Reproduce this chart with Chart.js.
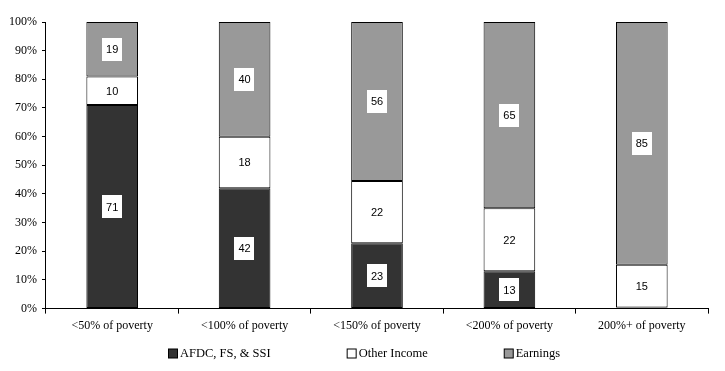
<!DOCTYPE html>
<html>
<head>
<meta charset="utf-8">
<script src="https://cdn.jsdelivr.net/npm/chart.js@4"></script>
<style>
  html, body { margin: 0; padding: 0; background: #fff; }
  #wrap { width: 725px; height: 371px; }
</style>
</head>
<body>
<div id="wrap"><canvas id="graph01" width="725" height="371"></canvas></div>
<script>
const categorias = ['<50% of poverty', '<100% of poverty', '<150% of poverty', '<200% of poverty', '200%+ of poverty']
const afdc = [71, 42, 23, 13, 0.4]
const outros = [10, 18, 22, 22, 15]
const ganhos = [19, 40, 56, 65, 85]
const yTicks = [0, 10, 20, 30, 40, 50, 60, 70, 80, 90, 100]

// normalizar para 100% (barras empilhadas)
const totais = categorias.map((c, i) => afdc[i] + outros[i] + ganhos[i])
const pct = arr => arr.map((v, i) => v / totais[i] * 100)

const serif = "'Liberation Serif', 'Times New Roman', serif"

const rotulos = {
  id: 'rotulos',
  afterDatasetsDraw(chart) {
    const ctx = chart.ctx
    ctx.save()
    ctx.font = "11px 'Liberation Sans', Arial, sans-serif"
    ctx.textAlign = 'center'
    ctx.textBaseline = 'middle'
    chart.data.datasets.forEach((ds, d) => {
      chart.getDatasetMeta(d).data.forEach((bar, i) => {
        const v = ds.raw[i]
        if (v < 5) return
        const txt = String(v)
        const w = ctx.measureText(txt).width + 8
        const h = 23
        const yc = (bar.y + bar.base) / 2
        ctx.fillStyle = '#fff'
        ctx.fillRect(Math.round(bar.x - w / 2), Math.round(yc - h / 2), Math.round(w), h)
        ctx.fillStyle = '#000'
        ctx.fillText(txt, bar.x, yc + 1)
      })
    })
    ctx.restore()
  }
}

// legenda desenhada a mao (itens bem espacados)
const legenda = {
  id: 'legenda',
  afterDraw(chart) {
    const ctx = chart.ctx
    const gap = 76, box = 9
    ctx.save()
    ctx.font = '12.5px ' + serif
    ctx.textBaseline = 'middle'
    const itens = chart.data.datasets.map(ds => ({ txt: ds.label, cor: ds.backgroundColor, w: box + 3 + ctx.measureText(ds.label).width }))
    const total = itens.reduce((s, it) => s + it.w, 0) + gap * (itens.length - 1)
    let x = Math.round(chart.width / 2 - total / 2) + 2
    const y = 353
    itens.forEach(it => {
      ctx.fillStyle = it.cor
      ctx.fillRect(x + 0.5, y - box / 2 + 0.5, box, box)
      ctx.strokeStyle = '#000'
      ctx.lineWidth = 1
      ctx.strokeRect(x + 0.5, y - box / 2 + 0.5, box, box)
      ctx.fillStyle = '#000'
      ctx.fillText(it.txt, x + box + 3, y + 1)
      x += it.w + gap
    })
    ctx.restore()
  }
}

const comum = { borderColor: '#000', borderWidth: 1, categoryPercentage: 1, barPercentage: 0.39, borderSkipped: false }

new Chart(document.getElementById('graph01'), {
  type: 'bar',
  data: {
    labels: categorias,
    datasets: [
      { label: 'AFDC, FS, & SSI', data: pct(afdc), raw: afdc, backgroundColor: '#333333', ...comum },
      { label: 'Other Income', data: pct(outros), raw: outros, backgroundColor: '#ffffff', ...comum },
      { label: 'Earnings', data: pct(ganhos), raw: ganhos, backgroundColor: '#999999', ...comum }
    ]
  },
  options: {
    responsive: false,
    animation: false,
    layout: { padding: { top: 22, right: 17, left: 4, bottom: 33 } },
    plugins: {
      legend: { display: false },
      tooltip: { enabled: false }
    },
    scales: {
      x: {
        stacked: true,
        grid: { drawOnChartArea: false, color: '#000', tickLength: 5, offset: true },
        border: { color: '#000' },
        ticks: { color: '#000', font: { family: serif, size: 12 }, padding: 5, maxRotation: 0 }
      },
      y: {
        stacked: true,
        min: 0,
        max: 100,
        afterBuildTicks: axis => { axis.ticks = yTicks.map(v => ({ value: v })) },
        grid: { drawOnChartArea: false, color: '#000', tickLength: 4 },
        border: { color: '#000' },
        ticks: { color: '#000', font: { family: serif, size: 12 }, padding: 5, callback: v => v + '%' }
      }
    }
  },
  plugins: [rotulos, legenda]
})
</script>
</body>
</html>
